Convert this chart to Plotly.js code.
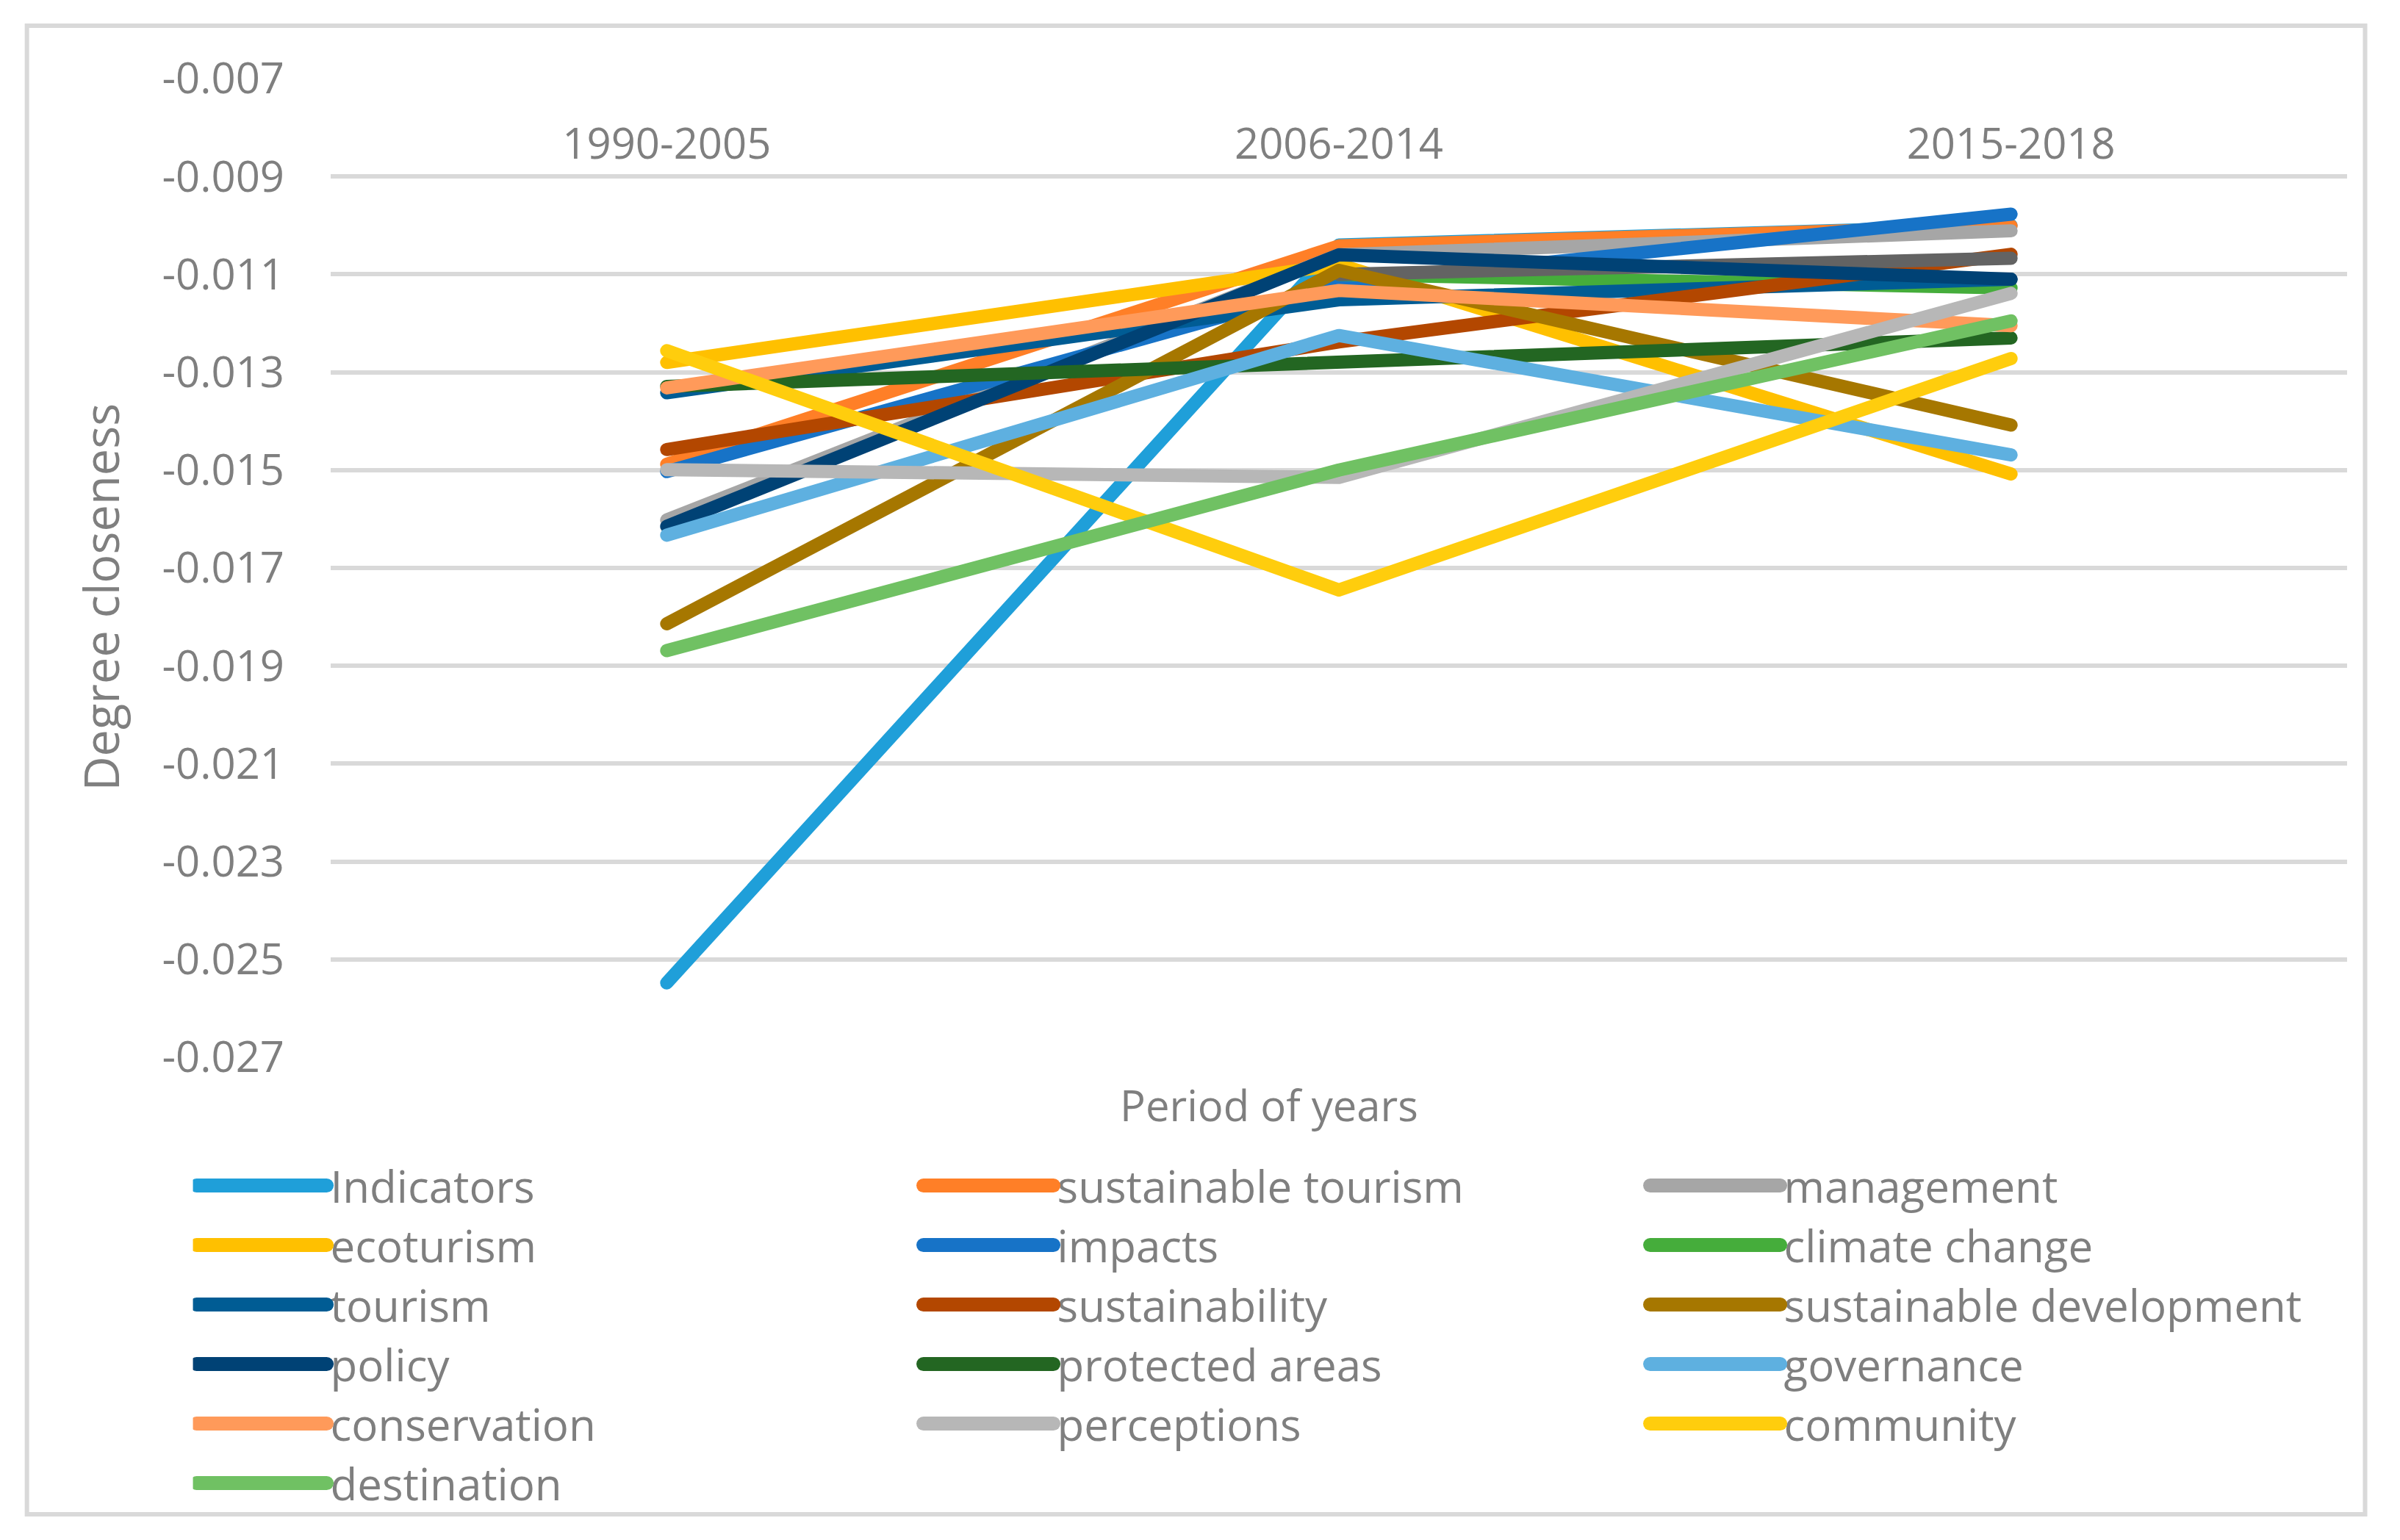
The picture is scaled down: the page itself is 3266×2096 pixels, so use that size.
<!DOCTYPE html>
<html>
<head>
<meta charset="utf-8">
<script src="https://cdn.plot.ly/plotly-3.0.1.min.js"></script>
<style>
  html, body { margin: 0; padding: 0; background: #ffffff; }
  #chart { width: 3266px; height: 2096px; }
  .scatterlayer .js-line { stroke-linecap: round; stroke-linejoin: round; }
  .legendlines path { stroke-linecap: round; stroke-width: 19px !important; }
</style>
</head>
<body>
<div id="chart"></div>
<script>
// ---- data ----
const categories = ['1990-2005', '2006-2014', '2015-2018'];
const yTickValues = [-0.027, -0.025, -0.023, -0.021, -0.019, -0.017, -0.015, -0.013, -0.011, -0.009, -0.007];
const yTickLabels = ['-0.027', '-0.025', '-0.023', '-0.021', '-0.019', '-0.017', '-0.015', '-0.013', '-0.011', '-0.009', '-0.007'];
const seriesNames = [
  'Indicators', 'sustainable tourism', 'management', 'ecoturism', 'impacts',
  'climate change', 'tourism', 'sustainability', '', 'sustainable development',
  'policy', 'protected areas', 'governance', 'conservation', 'perceptions',
  'community', 'destination'
];
const indicators             = [-0.02548, -0.01040, -0.01000];
const sustainableTourism     = [-0.01488, -0.01042, -0.01001];
const management             = [-0.01602, -0.01060, -0.01011];
const ecoturism              = [-0.01280, -0.01080, -0.01508];
const impacts                = [-0.01503, -0.01120, -0.00977];
const climateChange          = [null,     -0.01100, -0.01128];
const tourism                = [-0.01342, -0.01152, -0.01110];
const sustainability         = [-0.01458, -0.01238, -0.01059];
const unlabelledSeries       = [null,     -0.01100, -0.01067];
const sustainableDevelopment = [-0.01814, -0.01092, -0.01408];
const policy                 = [-0.01615, -0.01060, -0.01110];
const protectedAreas         = [-0.01329, -0.01280, -0.01230];
const governance             = [-0.01633, -0.01225, -0.01469];
const conservation           = [-0.01332, -0.01133, -0.01205];
const perceptions            = [-0.01499, -0.01515, -0.01139];
const community              = [-0.01256, -0.01745, -0.01272];
const destination            = [-0.01869, -0.01500, -0.01195];

const seriesValues = [
  indicators, sustainableTourism, management, ecoturism, impacts,
  climateChange, tourism, sustainability, unlabelledSeries, sustainableDevelopment,
  policy, protectedAreas, governance, conservation, perceptions,
  community, destination
];
const seriesColors = [
  '#1f9fd9', '#ff7f27', '#a6a6a6', '#ffc000', '#1773c7',
  '#45ad3b', '#005c94', '#b34700', '#636363', '#a67700',
  '#004275', '#236622', '#5eb0e0', '#ff9a5a', '#b7b7b7',
  '#ffcd0d', '#70c163'
];

// ---- geometry ----
const W = 3266, H = 2096;
const L = 449.5, R = 71.5, T = 107, B = 657;
const PW = W - L - R, PH = H - T - B;
const px2x = p => (p - L) / PW;
const px2y = p => (H - B - p) / PH;

const textColor = '#7f7f7f';
const fontFam = '"Open Sans", "Noto Sans", sans-serif';

const traces = seriesValues.map((vals, i) => ({
  type: 'scatter',
  mode: 'lines',
  x: categories,
  y: vals,
  name: seriesNames[i],
  showlegend: seriesNames[i] !== '',
  connectgaps: false,
  line: { color: seriesColors[i], width: 18 },
  hoverinfo: 'skip'
}));

const layout = {
  width: W, height: H,
  margin: { l: L, r: R, t: T, b: B, pad: 0 },
  paper_bgcolor: '#ffffff',
  plot_bgcolor: '#ffffff',
  font: { family: fontFam, color: textColor, size: 58 },
  showlegend: true,
  xaxis: {
    type: 'category',
    range: [-0.5, 2.5],
    anchor: 'free',
    position: 1,
    side: 'bottom',
    showgrid: false,
    showline: false,
    zeroline: false,
    ticks: '',
    ticklabelstandoff: 50,
    tickfont: { family: fontFam, color: textColor, size: 58 },
    fixedrange: true
  },
  yaxis: {
    range: [-0.027, -0.007],
    tickmode: 'array',
    tickvals: yTickValues,
    ticktext: yTickLabels,
    showgrid: true,
    gridcolor: '#d9d9d9',
    gridwidth: 6,
    zeroline: false,
    showline: false,
    ticks: '',
    ticklabelstandoff: 62,
    tickfont: { family: fontFam, color: textColor, size: 58 },
    fixedrange: true
  },
  legend: {
    orientation: 'h',
    x: px2x(262), xanchor: 'left',
    y: px2y(1568), yanchor: 'top',
    entrywidth: 797, entrywidthmode: 'pixels',
    itemwidth: 177,
    font: { family: fontFam, color: textColor, size: 60 },
    bgcolor: 'rgba(0,0,0,0)',
    traceorder: 'normal'
  },
  annotations: [{
    text: 'Period of years',
    xref: 'paper', yref: 'paper',
    x: px2x(1727), y: px2y(1503),
    xanchor: 'center', yanchor: 'middle',
    showarrow: false,
    font: { family: fontFam, color: textColor, size: 58 }
  }, {
    text: 'Degree closeness',
    xref: 'paper', yref: 'paper',
    x: px2x(136), y: px2y(813),
    xanchor: 'center', yanchor: 'middle',
    textangle: -90,
    showarrow: false,
    font: { family: fontFam, color: textColor, size: 65 }
  }],
  shapes: [{
    type: 'rect', xref: 'paper', yref: 'paper',
    x0: px2x(36), x1: px2x(3219), y0: px2y(2061), y1: px2y(35),
    line: { color: '#d9d9d9', width: 6 },
    fillcolor: 'rgba(0,0,0,0)',
    layer: 'below'
  }]
};

Plotly.newPlot('chart', traces, layout, { staticPlot: true, displayModeBar: false });
</script>
</body>
</html>
